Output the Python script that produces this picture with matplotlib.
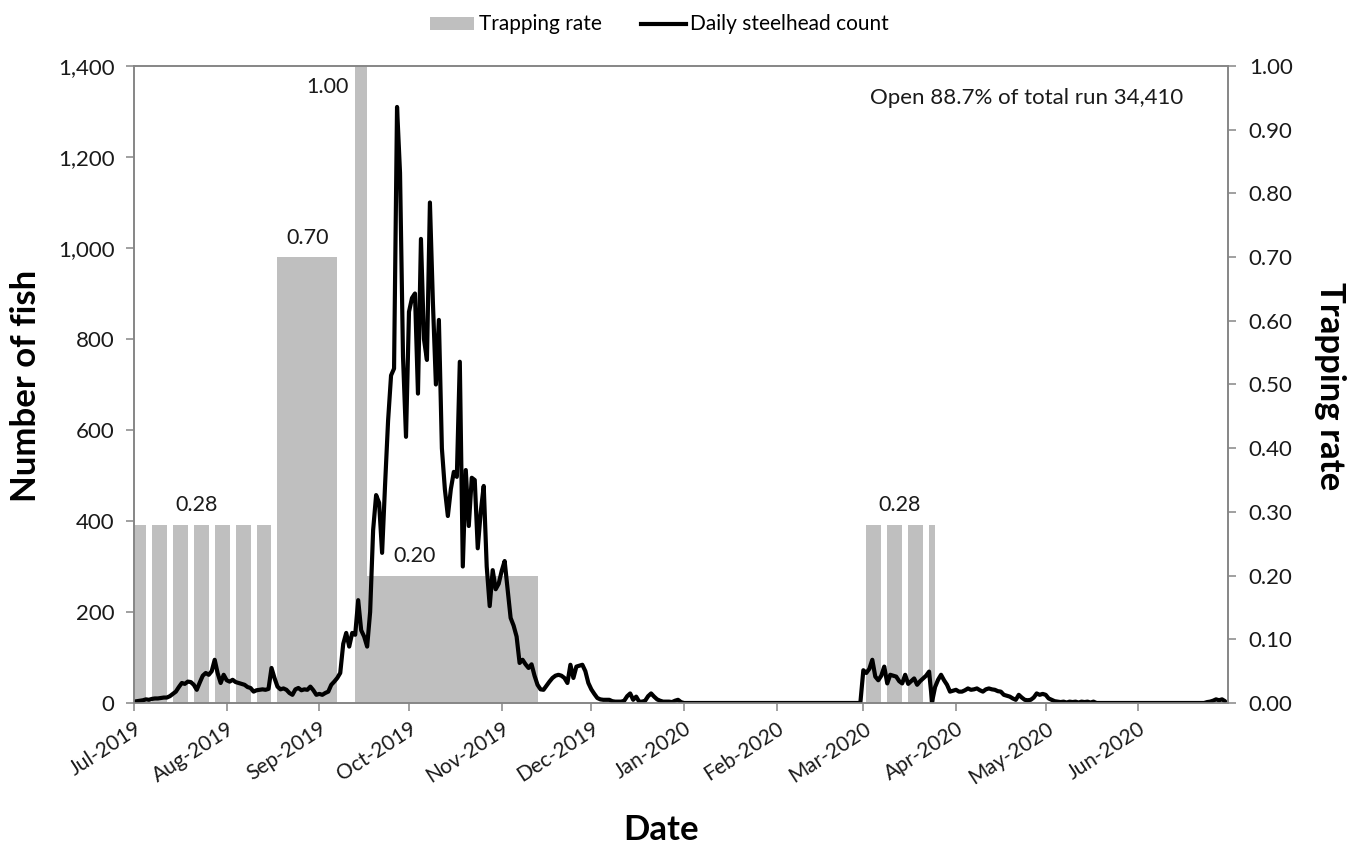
import datetime as dt

import matplotlib
matplotlib.use("Agg")
import matplotlib.pyplot as plt
import matplotlib.dates as mdates
import matplotlib.transforms as mtransforms
from matplotlib.lines import Line2D
from matplotlib.patches import Patch
from matplotlib.ticker import FuncFormatter, MultipleLocator

plt.rcParams["font.family"] = ["Lato", "DejaVu Sans"]

# Daily steelhead counts, 1 Jul 2019 - 30 Jun 2020, one list per month
jul_2019 = [3, 4, 5, 6, 8, 7, 9, 10, 10, 11, 12, 12, 15, 20, 25, 35, 44, 42, 47, 46,
            40, 29, 45, 60, 66, 62, 70, 95, 65, 44, 62]
aug_2019 = [50, 47, 51, 46, 44, 42, 40, 35, 33, 25, 28, 29, 30, 29, 31, 77, 55, 36, 30, 32,
            29, 22, 18, 30, 33, 28, 30, 29, 36, 28, 18]
sep_2019 = [20, 18, 22, 25, 40, 47, 55, 66, 130, 154, 124, 154, 150, 226, 160, 146, 124, 200,
            380, 457, 440, 330, 480, 620, 720, 735, 1310, 1165, 761, 585]
oct_2019 = [860, 890, 900, 680, 1020, 800, 754, 1100, 880, 700, 842, 560, 470, 411, 470, 508,
            497, 750, 300, 512, 389, 495, 490, 340, 420, 477, 300, 213, 292, 250, 262]
nov_2019 = [290, 312, 250, 187, 170, 146, 88, 95, 85, 77, 85, 60, 40, 30, 29, 38, 47, 55, 60,
            62, 60, 55, 44, 84, 55, 80, 82, 84, 70, 44]
dec_2019 = [30, 20, 11, 8, 7, 7, 7, 4, 3, 3, 3, 5, 15, 21, 7, 14, 3, 3, 5, 15, 21, 14, 8, 5,
            3, 3, 3, 2, 5, 7, 2]
jan_2020 = [0, 0, 0, 0, 0, 0, 0, 0, 0, 0, 0, 0, 0, 0, 0, 0, 0, 0, 0, 0,
            0, 0, 0, 0, 0, 0, 0, 0, 0, 0, 0]
feb_2020 = [0, 0, 0, 0, 0, 0, 0, 0, 0, 0, 0, 0, 0, 0, 0, 0, 0, 0, 0, 0,
            0, 0, 0, 0, 0, 0, 0, 0, 0]
mar_2020 = [72, 66, 75, 95, 58, 50, 60, 80, 43, 62, 60, 58, 48, 43, 62, 42, 48, 54, 40, 48,
            54, 60, 69, 3, 35, 51, 62, 50, 40, 25, 27]
apr_2020 = [29, 25, 25, 28, 32, 29, 30, 32, 28, 25, 30, 32, 30, 29, 26, 25, 18, 16, 14, 10,
            7, 18, 12, 7, 6, 7, 12, 21, 18, 20]
may_2020 = [18, 10, 7, 4, 3, 2, 3, 1, 3, 2, 3, 1, 3, 2, 3, 1, 3, 0, 0, 0,
            0, 0, 0, 0, 0, 0, 0, 0, 0, 0, 0]
jun_2020 = [0, 0, 0, 0, 0, 0, 0, 0, 0, 0, 0, 0, 0, 0, 0, 0, 0, 0, 0, 0,
            0, 0, 0, 2, 3, 5, 8, 6, 8, 4]

# Trapping periods: first day, day after the last day, trapping rate
rate_start = ["2019-07-01", "2019-07-07", "2019-07-14", "2019-07-21", "2019-07-28",
              "2019-08-04", "2019-08-11", "2019-08-18", "2019-09-13", "2019-09-17",
              "2020-03-02", "2020-03-09", "2020-03-16", "2020-03-23"]
rate_end = ["2019-07-05", "2019-07-12", "2019-07-19", "2019-07-26", "2019-08-02",
            "2019-08-09", "2019-08-16", "2019-09-07", "2019-09-17", "2019-11-13",
            "2020-03-07", "2020-03-14", "2020-03-21", "2020-03-25"]
rate_value = [0.28, 0.28, 0.28, 0.28, 0.28, 0.28, 0.28, 0.70, 1.00, 0.20,
              0.28, 0.28, 0.28, 0.28]

# Value labels: the period whose rate is shown, the date the label sits at, and side
label_period = [0, 7, 8, 9, 10]
label_date = ["2019-07-22", "2019-08-28", "2019-09-13", "2019-10-03", "2020-03-13"]
label_side = ["above", "above", "left", "above", "above"]

note_text = "Open 88.7% of total run 34,410"
month_ticks = ["2019-07-01", "2019-08-01", "2019-09-01", "2019-10-01", "2019-11-01",
               "2019-12-01", "2020-01-01", "2020-02-01", "2020-03-01", "2020-04-01",
               "2020-05-01", "2020-06-01"]

counts = (jul_2019 + aug_2019 + sep_2019 + oct_2019 + nov_2019 + dec_2019 +
          jan_2020 + feb_2020 + mar_2020 + apr_2020 + may_2020 + jun_2020)
first_day = dt.date(2019, 7, 1)
day_x = mdates.date2num([first_day + dt.timedelta(days=i) for i in range(len(counts))])


def to_num(s):
    return mdates.date2num(dt.date.fromisoformat(s))


starts = [to_num(s) for s in rate_start]
ends = [to_num(s) for s in rate_end]
widths = [e - s for s, e in zip(starts, ends)]

GREY_BAR = "#BFBFBF"
SPINE = "#868686"
TEXT = "#1a1a1a"
TICK_FS = 16

fig = plt.figure(figsize=(13.62, 8.5), dpi=100)
ax = fig.add_axes([134 / 1362, 1 - 703 / 850, 1094 / 1362, 637 / 850])
ax2 = ax.twinx()

# Trapping rate bars on the right axis
ax2.bar(starts, rate_value, width=widths, align="edge", color=GREY_BAR,
        edgecolor="none", linewidth=0)
ax2.set_ylim(0, 1.0)
ax2.yaxis.set_major_locator(MultipleLocator(0.1))
ax2.yaxis.set_major_formatter(FuncFormatter(lambda v, p: f"{v:.2f}"))

for idx, ldate, side in zip(label_period, label_date, label_side):
    r = rate_value[idx]
    if side == "above":
        ax2.annotate(f"{r:.2f}", (to_num(ldate), r), xytext=(0, 14),
                     textcoords="offset points", ha="center", va="center",
                     fontsize=15.5, color=TEXT)
    else:
        ax2.annotate(f"{r:.2f}", (starts[idx], r), xytext=(-5, -15),
                     textcoords="offset points", ha="right", va="center",
                     fontsize=15.5, color=TEXT)

# Daily count line on the left axis, drawn over the bars
ax.set_zorder(ax2.get_zorder() + 1)
ax.patch.set_visible(False)
ax.plot(day_x, counts, color="black", lw=3.0, solid_joinstyle="round",
        solid_capstyle="round")
ax.set_ylim(0, 1400)
ax.yaxis.set_major_locator(MultipleLocator(200))
ax.yaxis.set_major_formatter(FuncFormatter(lambda v, p: f"{int(v):,}"))

ax.set_xlim(to_num("2019-07-01"), to_num("2020-07-01"))
ax.set_xticks([to_num(s) for s in month_ticks])
ax.xaxis.set_major_formatter(mdates.DateFormatter("%b-%Y"))
shift = mtransforms.ScaledTranslation(7 / 100, -4 / 100, fig.dpi_scale_trans)
for lbl in ax.get_xticklabels():
    lbl.set_rotation(33)
    lbl.set_ha("right")
    lbl.set_rotation_mode("anchor")
    lbl.set_transform(lbl.get_transform() + shift)

for a in (ax, ax2):
    for sp in a.spines.values():
        sp.set_color(SPINE)
        sp.set_linewidth(1.2)
ax.tick_params(axis="y", direction="out", length=6, width=1.1, color=SPINE,
               labelsize=TICK_FS, pad=8, labelcolor=TEXT)
ax.tick_params(axis="x", direction="out", length=6, width=1.1, color=SPINE,
               labelsize=15, pad=5, labelcolor=TEXT)
ax2.tick_params(axis="y", direction="out", length=6, width=1.1, color=SPINE,
                labelsize=TICK_FS, pad=9, labelcolor=TEXT)

ax.text(0.959, 0.95, note_text, transform=ax.transAxes, ha="right", va="center",
        fontsize=TICK_FS, color=TEXT)

fig.text(26 / 1362, 1 - 386 / 850, "Number of fish", rotation=90, ha="center",
         va="center", fontsize=25, fontweight="bold")
fig.text(1330 / 1362, 1 - 386 / 850, "Trapping rate", rotation=270, ha="center",
         va="center", fontsize=25, fontweight="bold")
fig.text(661 / 1362, 1 - 830 / 850, "Date", ha="center", va="center",
         fontsize=25, fontweight="bold")

handles = [Patch(facecolor=GREY_BAR, edgecolor="none"),
           Line2D([0], [0], color="black", lw=3)]
fig.legend(handles, ["Trapping rate", "Daily steelhead count"], loc="upper center",
           bbox_to_anchor=(0.484, 1.005), ncol=2, frameon=False, fontsize=15,
           handlelength=2.15, handleheight=0.6, handletextpad=0.2, columnspacing=1.9)

fig.savefig("out.png", dpi=100)
